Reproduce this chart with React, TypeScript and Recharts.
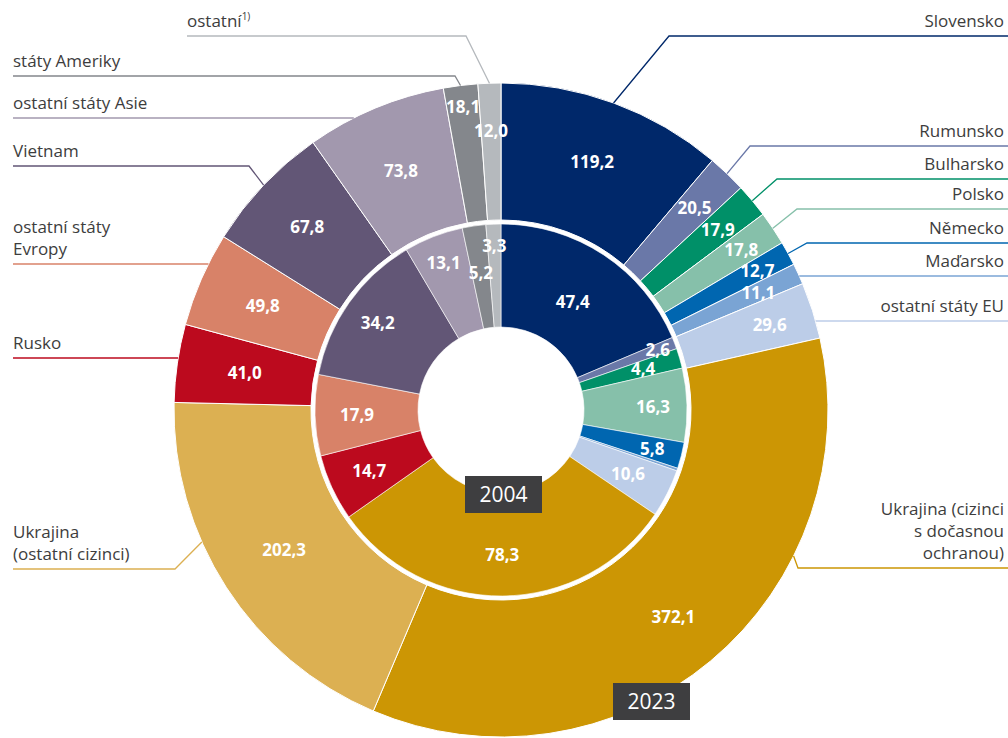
import React from 'react';
import { PieChart, Pie, Cell } from 'recharts';

// 2023 (vnější kruh)
const categories2023 = [
  'Slovensko',
  'Rumunsko',
  'Bulharsko',
  'Polsko',
  'Německo',
  'Maďarsko',
  'ostatní státy EU',
  'Ukrajina (cizinci\ns dočasnou\nochranou)',
  'Ukrajina\n(ostatní cizinci)',
  'Rusko',
  'ostatní státy\nEvropy',
  'Vietnam',
  'ostatní státy Asie',
  'státy Ameriky',
  'ostatní',
];
const footnotes2023 = ['', '', '', '', '', '', '', '', '', '', '', '', '', '', '1)'];
const values2023 = [119.2, 20.5, 17.9, 17.8, 12.7, 11.1, 29.6, 372.1, 202.3, 41.0, 49.8, 67.8, 73.8, 18.1, 12.0];
const colors2023 = [
  '#00286a', '#6a78a8', '#009068', '#86c0aa', '#0066b0', '#7aa4d4', '#bccde8',
  '#cc9604', '#dcb052', '#bc0a1e', '#d88268', '#625676', '#a298ae', '#84878c', '#b5b9bd',
];

// 2004 (vnitřní kruh)
const categories2004 = [
  'Slovensko', 'Rumunsko', 'Bulharsko', 'Polsko', 'Německo', 'Maďarsko', 'ostatní státy EU',
  'Ukrajina', 'Rusko', 'ostatní státy Evropy', 'Vietnam', 'ostatní státy Asie', 'státy Ameriky', 'ostatní',
];
const values2004 = [47.4, 2.6, 4.4, 16.3, 5.8, 0.6, 10.6, 78.3, 14.7, 17.9, 34.2, 13.1, 5.2, 3.3];
const colors2004 = [
  '#00286a', '#6a78a8', '#009068', '#86c0aa', '#0066b0', '#7aa4d4', '#bccde8',
  '#cc9604', '#bc0a1e', '#d88268', '#625676', '#a298ae', '#84878c', '#b5b9bd',
];

const W = 1008;
const H = 738;
const CX = 501;
const CY = 410;
const RADIAN = Math.PI / 180;
const FONT = '"Open Sans", sans-serif';
const TEXT_COLOR = '#3d3d3d';

// vzdálenost hodnot od středu
const outerLabelR = [265, 280, 282, 289, 292, 283, 282, 269, 258, 259, 260, 267, 260, 306, 280];
const innerLabelR = [130, 168, 148, 152, 156, 0, 142, 145, 145, 144, 151, 158, 139, 165];

// popisky s odkazovými čarami
const leaders: { side: 'L' | 'R'; lineY: number; elbowX?: number; attachY?: number; textX?: number }[] = [
  { side: 'R', lineY: 36, elbowX: 669 },
  { side: 'R', lineY: 146, elbowX: 750 },
  { side: 'R', lineY: 179, elbowX: 777 },
  { side: 'R', lineY: 209, elbowX: 797 },
  { side: 'R', lineY: 243, elbowX: 807 },
  { side: 'R', lineY: 276 },
  { side: 'R', lineY: 321 },
  { side: 'R', lineY: 568, elbowX: 798, attachY: 556 },
  { side: 'L', lineY: 569, elbowX: 175, attachY: 542 },
  { side: 'L', lineY: 358 },
  { side: 'L', lineY: 264 },
  { side: 'L', lineY: 166, elbowX: 249 },
  { side: 'L', lineY: 118 },
  { side: 'L', lineY: 76, elbowX: 455 },
  { side: 'L', lineY: 36, elbowX: 466, textX: 187 },
];

const data2023 = categories2023.map((name, i) => ({ name, value: values2023[i] }));
const data2004 = categories2004.map((name, i) => ({ name, value: values2004[i] }));

const fmt = (v: number) => v.toFixed(1).replace('.', ',');

const renderOuterLabel = (props: any) => {
  const { cx, cy, midAngle, outerRadius, index, value } = props;
  const r = outerLabelR[index];
  const x = cx + r * Math.cos(-midAngle * RADIAN);
  const y = cy + r * Math.sin(-midAngle * RADIAN);
  const lay = leaders[index];

  let ax: number;
  let ay: number;
  if (lay.elbowX === undefined || lay.attachY !== undefined) {
    ay = lay.attachY ?? lay.lineY;
    const dx = Math.sqrt(outerRadius * outerRadius - (ay - cy) * (ay - cy));
    ax = lay.side === 'R' ? cx + dx : cx - dx;
  } else {
    ax = cx + outerRadius * Math.cos(-midAngle * RADIAN);
    ay = cy + outerRadius * Math.sin(-midAngle * RADIAN);
  }
  const textX = lay.side === 'R' ? 1004 : lay.textX ?? 13;
  const startX = lay.side === 'R' ? W : textX;
  const pts: number[][] = [[startX, lay.lineY]];
  if (lay.elbowX !== undefined) pts.push([lay.elbowX, lay.lineY]);
  pts.push([ax, ay]);

  const lines = categories2023[index].split('\n');
  const note = footnotes2023[index];

  return (
    <g key={`ol-${index}`}>
      <polyline
        points={pts.map((p) => p.join(',')).join(' ')}
        fill="none"
        stroke={colors2023[index]}
        strokeWidth={1.3}
      />
      <text
        x={textX}
        textAnchor={lay.side === 'R' ? 'end' : 'start'}
        fontFamily={FONT}
        fontSize={17}
        fill={TEXT_COLOR}
      >
        {lines.map((ln, k) => (
          <tspan key={k} x={textX} y={lay.lineY - 9 - 22 * (lines.length - 1 - k)}>
            {ln}
          </tspan>
        ))}
        {note && (
          <tspan fontSize={10} dy={-7}>
            {note}
          </tspan>
        )}
      </text>
      <text
        x={x}
        y={y}
        textAnchor="middle"
        dominantBaseline="central"
        fontFamily={FONT}
        fontWeight={700}
        fontSize={17}
        fill="#ffffff"
      >
        {fmt(value)}
      </text>
    </g>
  );
};

const renderInnerLabel = (props: any) => {
  const { cx, cy, midAngle, index, value } = props;
  const r = innerLabelR[index];
  if (!r) return null;
  const x = cx + r * Math.cos(-midAngle * RADIAN);
  const y = cy + r * Math.sin(-midAngle * RADIAN);
  return (
    <text
      key={`il-${index}`}
      x={x}
      y={y}
      textAnchor="middle"
      dominantBaseline="central"
      fontFamily={FONT}
      fontWeight={700}
      fontSize={17}
      fill="#ffffff"
    >
      {fmt(value)}
    </text>
  );
};

const yearBox = (left: number, top: number, text: string) => (
  <div
    style={{
      position: 'absolute',
      left,
      top,
      width: 77,
      height: 37,
      background: '#3e3e40',
      color: '#ffffff',
      fontFamily: FONT,
      fontSize: 21,
      lineHeight: '37px',
      textAlign: 'center',
    }}
  >
    {text}
  </div>
);

export default function App() {
  return (
    <div style={{ position: 'absolute', left: 0, top: 0, width: W, height: H, background: '#fff', overflow: 'hidden' }}>
      <PieChart width={W} height={H} margin={{ top: 0, right: 0, bottom: 0, left: 0 }}>
        <Pie
          data={data2023}
          dataKey="value"
          nameKey="name"
          cx={CX}
          cy={CY}
          innerRadius={190}
          outerRadius={327}
          startAngle={90}
          endAngle={-270}
          stroke="#ffffff"
          strokeWidth={1}
          label={renderOuterLabel}
          labelLine={false}
          isAnimationActive={false}
        >
          {data2023.map((d, i) => (
            <Cell key={d.name} fill={colors2023[i]} />
          ))}
        </Pie>
        <Pie
          data={data2004}
          dataKey="value"
          nameKey="name"
          cx={CX}
          cy={CY}
          innerRadius={83}
          outerRadius={186}
          startAngle={90}
          endAngle={-270}
          stroke="#ffffff"
          strokeWidth={0.6}
          label={renderInnerLabel}
          labelLine={false}
          isAnimationActive={false}
        >
          {data2004.map((d, i) => (
            <Cell key={d.name} fill={colors2004[i]} />
          ))}
        </Pie>
      </PieChart>
      {yearBox(465, 476, '2004')}
      {yearBox(613, 683, '2023')}
    </div>
  );
}
